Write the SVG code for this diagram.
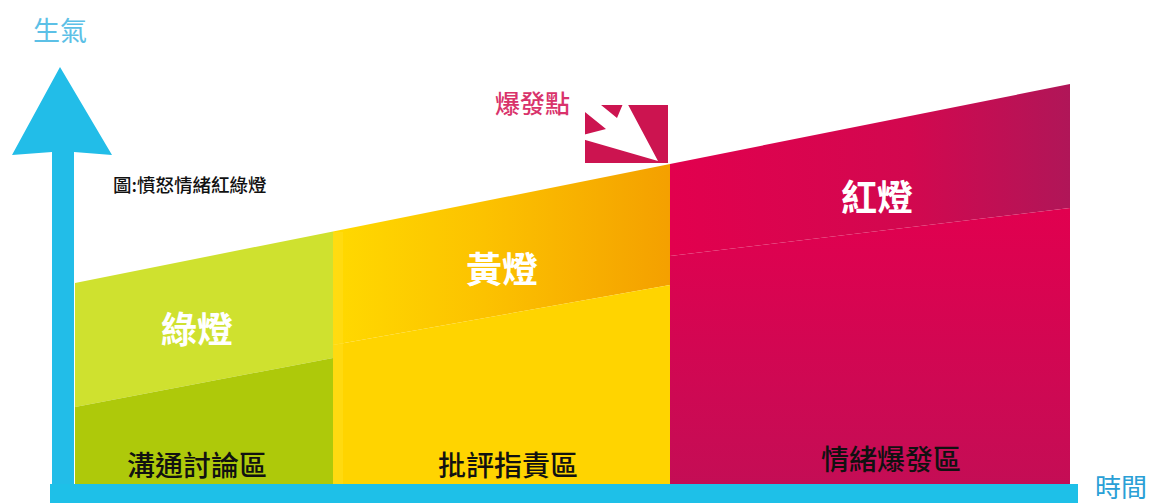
<svg xmlns="http://www.w3.org/2000/svg" width="1160" height="503" viewBox="0 0 1160 503">
  <style>
    .cjk { font-family: "Noto Sans CJK TC", "Noto Sans CJK SC", sans-serif; }
    .lamp { font-size: 36px; font-weight: 700; fill: #ffffff; text-anchor: middle; }
    .zone { font-size: 28px; font-weight: 500; fill: #111111; text-anchor: middle; }
    .axis { fill: #22bde8; }
  </style>
  <defs>
    <linearGradient id="gYellowTop" x1="0" y1="0" x2="1" y2="0">
      <stop offset="0" stop-color="#ffd900"/>
      <stop offset="0.45" stop-color="#fcc200"/>
      <stop offset="1" stop-color="#f4a000"/>
    </linearGradient>
    <linearGradient id="gRedTop" x1="0" y1="0" x2="1" y2="0">
      <stop offset="0" stop-color="#e2004e"/>
      <stop offset="0.6" stop-color="#d2084f"/>
      <stop offset="1" stop-color="#b01658"/>
    </linearGradient>
    <linearGradient id="gRedLow" x1="0" y1="0" x2="0" y2="1">
      <stop offset="0" stop-color="#e1004f"/>
      <stop offset="1" stop-color="#c40d55"/>
    </linearGradient>
  </defs>

  <rect width="1160" height="503" fill="#ffffff"/>

  <!-- Green zone -->
  <g id="green">
    <polygon points="75,283 333,231.4 333,358 75,407" fill="#cfe12f"/>
    <polygon points="75,407 333,358 333,484 75,484" fill="#aec90a"/>
    <text class="cjk lamp" x="197" y="343">綠燈</text>
    <text class="cjk zone" x="197" y="476">溝通討論區</text>
  </g>

  <!-- Yellow zone -->
  <g id="yellow">
    <polygon points="333,231.4 670,164 670,285 333,345" fill="url(#gYellowTop)"/>
    <polygon points="333,345 670,285 670,484 333,484" fill="#ffd400"/>
    <rect x="333" y="232" width="10" height="252" fill="#ffdd1a" opacity="0.6"/>
    <text class="cjk lamp" x="502" y="283">黃燈</text>
    <text class="cjk zone" x="508" y="476">批評指責區</text>
  </g>

  <!-- Red zone -->
  <g id="red">
    <polygon points="670,164 1070,84 1070,208 670,256" fill="url(#gRedTop)"/>
    <polygon points="670,256 1070,208 1070,484 670,484" fill="url(#gRedLow)"/>
    <text class="cjk lamp" x="877" y="211">紅燈</text>
    <text class="cjk zone" x="891" y="470">情緒爆發區</text>
  </g>

  <!-- Explosion point marker -->
  <g id="burst">
    <rect x="585" y="105" width="83" height="58" fill="#cc1450"/>
    <polygon points="658,161 625,99 617,118 590,96 580,108 606,129 575,137" fill="#ffffff"/>
    <text class="cjk" x="495" y="113" font-size="25" font-weight="500" fill="#d9336b">爆發點</text>
  </g>

  <!-- Caption -->
  <g id="caption">
    <text class="cjk" x="113" y="192" font-size="18.5" font-weight="500" fill="#111111">圖:憤怒情緒紅綠燈</text>
  </g>

  <!-- Axes -->
  <g id="connectors">
    <polygon class="axis" points="60,67 112,155 74,152 74,490 52,490 52,152 12,155" fill="#29b7e6"/>
    <rect x="50" y="484" width="1028" height="19" fill="#1ec0e8"/>
  </g>

  <g id="axis-labels">
    <text class="cjk" x="33" y="41" font-size="27" fill="#5cc0e6">生氣</text>
    <text class="cjk" x="1095" y="497" font-size="26" fill="#2a9fd6">時間</text>
  </g>
</svg>
